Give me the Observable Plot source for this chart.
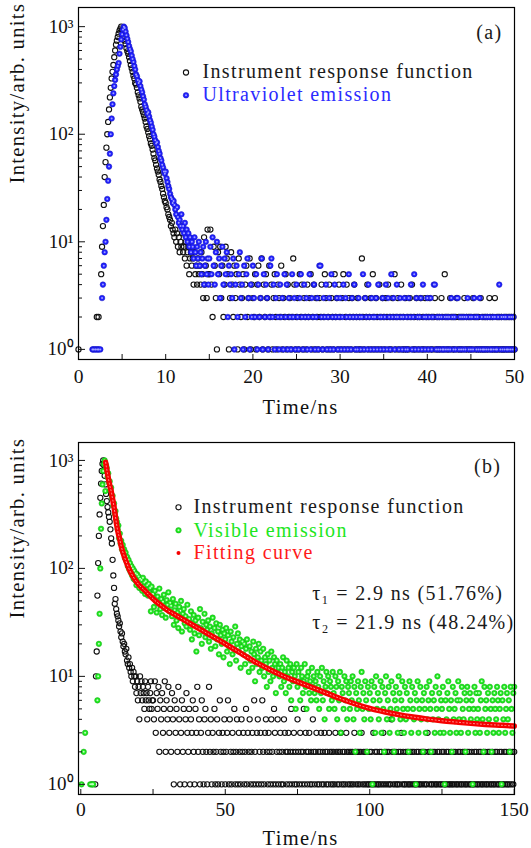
<!DOCTYPE html>
<html><head><meta charset="utf-8">
<script src="https://cdn.jsdelivr.net/npm/d3@7"></script>
<script src="https://cdn.jsdelivr.net/npm/@observablehq/plot@0.6"></script>
<style>
html,body{margin:0;padding:0;background:#fff;}
#page{position:relative;width:531px;height:848px;overflow:hidden;background:#fff;}
.panel{position:absolute;left:0;width:531px;height:424px;}
.panel svg text{letter-spacing:1.35px;}
.panel svg g[aria-label$="tick label"] text{letter-spacing:0;}
</style></head>
<body><div id="page"><div class="panel" id="pa" style="top:0"></div><div class="panel" id="pb" style="top:424px"></div></div>
<script>
// ---------- Panel (a): counts per time channel ----------
const headStepA = 0.1;                     // t = 0 .. 14.9 ns
const tailStartA = 15, tailStepA = 0.125;  // t = 15 .. 50 ns
const irfHeadA = [
1,0,0,0,0,0,0,0,0,0, 0,0,0,0,0,0,0,0,0,0,
0,2,0,2,0,0,5,9,14,22, 40,55,75,100,130,170,220,270,330,380,
440,520,600,680,740,800,860,920,960,1000, 930,870,800,740,690,630,590,560,520,480,
440,410,380,350,330,300,290,270,245,230, 215,200,180,170,160,150,140,130,118,112,
104,96,90,82,78,72,66,60,57,52, 48,45,42,38,36,33,31,28,26,24,
23,21,20,18,17,16,14,15,13,12, 11,13,10,12,9,11,8,10,9,12,
8,9,7,10,6,8,9,5,7,8, 6,7,4,8,5,6,4,7,5,6,
4,8,5,3,11,4,6,3,13,5];
const uvHeadA = [
0,0,0,0,0,0,0,0,0,0, 0,0,0,0,0,0,1,1,0,1,
1,0,1,1,0,1,0,3,4,6, 8,10,16,25,37,50,66,100,140,190,
240,280,320,360,400,430,460,560,650,760, 850,940,1000,970,900,830,770,720,660,620,
590,540,500,470,430,400,360,345,320,300, 310,280,260,245,225,210,190,180,168,155,
160,146,135,128,118,110,100,95,88,82, 84,76,70,66,60,57,52,49,45,43,
45,39,36,33,31,28,26,25,23,24, 22,20,18,21,17,15,16,14,18,13,
14,12,15,11,13,10,12,9,11,8, 10,9,7,11,8,6,9,7,10,6,
8,5,7,9,4,6,10,5,7,4];
const irfTailA = [
5,13,4,2,9,6,3,1,8,5,9,3,6,2,4,9,7,5,1,3,
8,4,2,6,3,5,1,7,4,2,3,5,1,4,6,2,3,7,1,4,
3,2,5,1,4,6,2,3,7,1,4,2,5,3,1,6,2,4,1,3,
5,2,1,4,3,2,6,1,3,2,5,1,4,2,3,1,2,7,4,1,
2,3,1,5,2,4,1,3,2,1,4,2,3,5,1,2,4,1,3,2,
1,3,2,4,1,2,5,3,1,2,4,1,3,2,1,5,2,3,1,4,
2,1,3,5,1,2,4,1,3,2,1,3,2,4,1,2,3,1,2,1,
7,2,1,3,2,4,1,2,3,1,5,2,1,3,2,1,4,2,1,3,
2,1,3,2,4,1,2,1,3,2,5,1,2,3,1,2,4,1,2,1,
3,1,2,1,3,2,4,1,2,1,3,2,1,2,3,1,2,1,3,2,
1,2,3,1,2,1,2,3,1,2,1,2,1,3,2,1,5,2,1,2,
1,3,2,1,2,1,2,3,1,2,1,2,1,2,3,1,2,1,2,1,
2,1,3,2,1,2,1,2,1,3,1,2,1,2,1,2,1,3,2,1,
2,1,3,1,2,1,2,1,2,1,1,2,1,2,1,2,1,2,1,2,
1];
const uvTailA = [
7,9,5,11,6,4,8,10,5,7,3,6,9,4,7,5,8,2,6,4,
5,3,7,1,4,6,2,5,8,3,4,1,6,2,5,7,3,1,4,2,
6,3,2,5,1,4,2,3,7,1,5,2,4,3,1,2,6,7,2,4,
1,3,5,2,1,4,2,3,1,5,2,4,1,3,2,1,5,2,3,1,
4,2,1,3,5,2,1,4,2,3,1,2,5,1,3,2,4,1,2,3,
1,6,6,2,1,3,2,4,1,2,3,1,5,2,1,4,2,3,1,2,
3,1,2,4,1,3,2,1,5,2,1,3,2,4,1,2,1,3,2,1,
2,5,1,3,2,1,4,2,1,3,2,1,2,3,1,4,2,1,2,3,
1,2,4,1,3,2,1,5,2,3,1,2,4,2,1,3,2,1,2,3,
1,2,1,3,2,4,1,2,5,1,3,2,1,2,3,1,4,2,1,2,
3,1,2,3,1,2,4,4,1,2,1,2,1,2,1,1,2,1,2,1,
2,1,3,2,1,2,1,3,3,1,2,1,2,1,2,1,2,3,1,2,
1,2,1,3,2,1,2,1,3,1,2,1,1,2,1,2,1,2,1,1,
2,1,2,1,1,2,4,1,2,1,2,1,2,1,1,2,1,2,1,2,
1];

// ---------- Panel (b) ----------
const headStepB = 0.25;                       // t = 0 .. 24.75 ns
const tailStartB = 25, tailStepB = 0.3125;    // t = 25 .. 150 ns
const irfHeadB = [
0,0,0,0,0,0,0,0,0,0, 0,0,0,0,0,0,0,0,0,0,
1,10,17,56,112,200,316,450,610,800, 930,1000,900,720,600,490,420,370,330,300,
270,230,190,170,120,86,66,47,52,42, 38,36,33,29,31,26,23,25,21,19,
20,17,16,18,14,13,15,12,13,11, 10,12,9,11,10,8,10,7,9,6,
8,4,10,7,9,6,8,7,5,9, 6,7,4,8,6,5,7,9,5,6];
const visHeadB = [
0,1,0,0,2,0,3,0,0,0, 0,0,0,1,0,1,1,1,0,0,
0,0,0,6,10,20,38,100,233,400, 600,800,920,1000,520,900,850,700,760,620,
640,530,560,450,470,380,400,320,340,290, 270,230,250,190,210,170,180,150,165,140,
150,125,140,118,128,105,120,98,112,92, 105,86,100,80,95,78,90,70,88,74,
84,66,80,72,78,62,82,68,74,58, 76,64,70,56,72,60,66,40,68,58];
const irfTailB = [
6,4,9,3,7,5,8,2,6,4,7,3,5,9,2,6,4,8,3,5,
2,7,4,1,6,3,5,2,8,4,1,3,6,2,5,1,4,7,3,2,
5,1,4,3,6,2,1,5,3,8,2,4,1,3,6,2,1,4,5,2,
1,3,8,2,4,1,3,2,5,1,2,4,1,3,6,2,1,3,2,4,
1,2,3,6,1,4,2,1,3,2,5,1,2,4,1,3,2,1,4,2,
3,1,2,5,1,3,2,4,1,2,3,1,6,2,1,3,4,1,2,3,
1,6,2,1,3,4,2,1,3,2,1,4,2,1,5,3,1,2,4,1,
2,3,1,2,1,4,3,2,1,2,3,1,2,5,1,2,3,1,2,1,
4,2,1,3,2,1,2,5,1,3,2,1,2,3,1,2,1,4,2,1,
2,3,1,2,1,2,3,1,2,1,3,2,1,2,1,3,2,1,2,1,
2,1,3,2,1,2,1,2,3,1,2,1,2,1,3,2,1,2,1,2,
1,2,1,3,2,1,2,1,2,1,2,3,1,2,1,2,1,2,1,1,
2,1,2,1,3,1,2,1,2,1,1,2,1,2,1,3,1,2,1,2,
1,2,1,1,4,2,1,2,1,2,1,1,2,1,2,3,1,2,1,1,
2,1,2,1,1,2,1,2,1,2,1,1,2,1,2,1,1,2,1,2,
1,2,1,1,3,2,1,2,1,1,2,1,2,1,1,2,1,2,1,1,
2,1,2,1,1,2,1,2,1,1,2,1,1,2,1,2,1,1,2,1,
2,1,1,2,1,2,1,1,2,1,2,1,1,2,1,1,2,1,2,1,
1,2,1,2,1,1,2,1,2,1,1,2,1,2,1,1,2,1,1,2,
1,2,1,1,2,1,2,1,1,2,1,2,1,1,2,1,2,1,2,1,
2];
const visTailB = [
58,44,62,50,39,55,47,65,42,52,37,49,57,43,35,51,46,60,40,48,
45,36,52,30,41,47,33,39,28,44,35,50,26,38,42,31,36,29,46,33,
34,27,40,22,31,37,25,33,17,29,35,24,42,28,20,32,26,38,23,30,
27,33,21,29,18,25,35,23,28,19,31,22,26,16,30,24,20,27,15,25,
22,28,17,24,19,13,26,21,16,23,18,29,14,20,25,17,22,12,19,21,
16,20,13,18,22,15,11,19,14,17,12,21,16,9,18,13,15,20,11,17,
14,12,18,10,15,13,8,16,11,14,9,17,12,10,15,13,7,14,11,12,
10,13,8,12,15,9,11,7,14,10,12,8,13,6,11,9,12,10,5,13,
8,11,9,6,12,10,7,9,13,8,5,10,11,7,9,6,12,8,10,7,
9,6,11,8,5,10,7,12,6,9,4,8,11,7,10,5,9,8,6,11,
7,5,10,8,4,9,6,11,3,8,7,5,10,6,9,4,8,7,5,9,
6,10,4,8,2,7,5,9,6,3,8,11,5,7,4,9,6,2,8,5,
7,4,9,1,6,8,3,10,5,7,4,6,9,3,8,5,2,7,10,4,
6,8,3,5,9,4,7,2,6,8,5,3,10,7,4,6,9,5,3,8,
4,7,5,2,9,6,3,8,5,4,7,1,6,9,3,5,8,4,6,2,
7,5,3,8,4,6,9,5,2,7,4,6,3,8,5,10,4,7,3,6,
5,8,3,1,6,4,7,9,5,3,6,2,8,4,5,7,3,6,9,4,
6,3,8,5,4,7,2,6,8,3,5,7,4,6,1,5,8,3,7,4,
5,7,3,6,9,4,2,8,5,6,3,7,4,8,5,2,6,3,7,5,
4,8,6,3,5,7,1,6,4,8,3,5,7,4,6,2,8,5,3,7,
8];
const fitTimeB = [8.6,9,9.5,10,10.5,11,11.5,12,12.5,13,13.5,14,15,16,17,18,19,20,22,24,26,28,30,33,36,40,44,48,52,56,60,65,70,76,80,85,90,95,100,105,110,115,120,125,130,135,140,145,150];
const fitValueB = [960,820,690,590,520,440,370,300,245,210,185,160,130,110,95,85,77,71,63,55.5,49.5,45,41,36.8,33,28.6,24.8,21.5,18.6,16,13.8,11.7,10.1,8.7,7.9,7.0,6.2,5.55,5.05,4.7,4.42,4.2,4.02,3.88,3.77,3.67,3.59,3.53,3.47];

// ---------- ticks and labels ----------
const yMajor = [1, 10, 100, 1000];
const yMinor = [2,3,4,5,6,7,8,9,20,30,40,50,60,70,80,90,200,300,400,500,600,700,800,900];
const xMajorA = [0,10,20,30,40,50], xMinorA = [5,15,25,35,45];
const xMajorB = [0,50,100,150], xMinorB = [25,75,125];
const legendA = ["Instrument response function", "Ultraviolet emission"];
const legendB = ["Instrument response function", "Visible emission", "Fitting curve"];
const fitParams = ["τ₁ = 2.9 ns (51.76%)", "τ₂ = 21.9 ns (48.24%)"];
const panelTags = ["(a)", "(b)"];
const xTitle = "Time/ns", yTitle = "Intensity/arb. units";

// ---------- helpers ----------
const rows = (arr, start, step) => arr.map((v, i) => ({t: start + i * step, v})).filter(d => d.v > 0);
const sup = ["⁰","¹","²","³"];
const yFmt = d => "10" + sup[Math.round(Math.log10(d))];
const FONT = "Liberation Serif, Times New Roman, serif";

function txt(s, anchor, dx, dy, o = {}) {
  return Plot.text([s], {frameAnchor: anchor, dx, dy, text: d => d, lineAnchor: "middle", fontSize: 20, ...o});
}
function axesCommon(xMaj, xMin, xPad) {
  return [
    Plot.axisY({anchor: "left", ticks: yMajor, tickSize: 7, dx: 7, tickFormat: () => "", label: null}),
    Plot.axisY({anchor: "left", ticks: yMinor, tickSize: 4, dx: 4, tickFormat: () => "", label: null}),
    Plot.axisY({anchor: "left", ticks: yMajor, tickSize: 0, tickPadding: 5, tickFormat: yFmt, label: null, fontSize: 19}),
    Plot.axisX({anchor: "bottom", ticks: xMaj, tickSize: 5, dy: -5, tickFormat: () => "", label: null}),
    Plot.axisX({anchor: "bottom", ticks: xMin, tickSize: 5, dy: -5, tickFormat: () => "", label: null}),
    Plot.axisX({anchor: "bottom", ticks: xMaj, tickSize: 0, tickPadding: xPad, tickFormat: d => String(d), label: null, fontSize: 19.5}),
    Plot.frame({stroke: "#000", strokeWidth: 1.2})
  ];
}

const irfA = [...rows(irfHeadA, 0, headStepA), ...rows(irfTailA, tailStartA, tailStepA)];
const uvA = [...rows(uvHeadA, 0, headStepA), ...rows(uvTailA, tailStartA, tailStepA)];
const irfB = [...rows(irfHeadB, 0, headStepB), ...rows(irfTailB, tailStartB, tailStepB)];
const visB = [...rows(visHeadB, 0, headStepB), ...rows(visTailB, tailStartB, tailStepB)];
const fitB = fitTimeB.map((t, i) => ({t, v: fitValueB[i]}));

const BLUE = "#2020ff", BLUE_EDGE = "#1515b8", BLUE_HI = "#a0a0ff";
const GREEN = "#1fe81f", GREEN_EDGE = "#0c9a0c", GREEN_HI = "#c0ffc0";
const RED = "#f50000";

const plotA = Plot.plot({
  width: 531, height: 424,
  marginTop: 7, marginBottom: 65, marginLeft: 78, marginRight: 17,
  style: {fontFamily: FONT, fontSize: "19px", background: "white", color: "#111"},
  x: {domain: [0, 50], label: null},
  y: {type: "log", domain: [Math.pow(10, -0.094), Math.pow(10, 3.178)], label: null},
  marks: [
    Plot.dot(irfA, {x: "t", y: "v", r: 2.6, stroke: "#111", strokeWidth: 1.1, fill: "none"}),
    Plot.dot(uvA, {x: "t", y: "v", r: 2.8, fill: BLUE, stroke: BLUE_EDGE, strokeWidth: 0.5}),
    Plot.dot(uvA, {x: "t", y: "v", r: 1, fill: BLUE_HI}),
    ...axesCommon(xMajorA, xMinorA, 10),
    Plot.dot([0], {frameAnchor: "top-left", dx: 107.5, dy: 65, r: 2.6, stroke: "#111", strokeWidth: 1.1, fill: "none"}),
    Plot.dot([0], {frameAnchor: "top-left", dx: 107.5, dy: 87.8, r: 2.8, fill: BLUE, stroke: BLUE_EDGE, strokeWidth: 0.5}),
    Plot.dot([0], {frameAnchor: "top-left", dx: 107.5, dy: 87.8, r: 1, fill: BLUE_HI}),
    txt(legendA[0], "top-left", 124, 64.5, {textAnchor: "start", fill: "#1a1a1a"}),
    txt(legendA[1], "top-left", 124, 87.3, {textAnchor: "start", fill: "#2b2bff"}),
    txt(panelTags[0], "top-right", -12, 24.7, {textAnchor: "end", fill: "#1a1a1a"}),
    txt(xTitle, "bottom", 4, 48, {fontSize: 20.5}),
    txt(yTitle, "left", -61, 0, {rotate: -90, fontSize: 20.5})
  ]
});

const plotB = Plot.plot({
  width: 531, height: 424,
  marginTop: 18, marginBottom: 54, marginLeft: 78, marginRight: 17,
  style: {fontFamily: FONT, fontSize: "19px", background: "white", color: "#111"},
  x: {domain: [-0.8, 150.1], label: null},
  y: {type: "log", domain: [Math.pow(10, -0.094), Math.pow(10, 3.166)], label: null},
  marks: [
    Plot.dot(irfB, {x: "t", y: "v", r: 2.6, stroke: "#111", strokeWidth: 1.1, fill: "none"}),
    Plot.dot(visB, {x: "t", y: "v", r: 2.8, fill: GREEN, stroke: GREEN_EDGE, strokeWidth: 0.4}),
    Plot.dot(visB, {x: "t", y: "v", r: 1, fill: GREEN_HI}),
    Plot.line(fitB, {x: "t", y: "v", stroke: RED, strokeWidth: 5.5, curve: "monotone-x"}),
    Plot.line(fitB, {x: "t", y: "v", stroke: "#ff9c9c", strokeWidth: 1, strokeDasharray: "1,2.5", curve: "monotone-x"}),
    ...axesCommon(xMajorB, xMinorB, 8),
    Plot.dot([0], {frameAnchor: "top-left", dx: 100, dy: 64.8, r: 2.6, stroke: "#111", strokeWidth: 1.1, fill: "none"}),
    Plot.dot([0], {frameAnchor: "top-left", dx: 100, dy: 87.8, r: 2.8, fill: GREEN, stroke: GREEN_EDGE, strokeWidth: 0.4}),
    Plot.dot([0], {frameAnchor: "top-left", dx: 100, dy: 87.8, r: 1, fill: GREEN_HI}),
    Plot.dot([0], {frameAnchor: "top-left", dx: 100, dy: 110.5, r: 2, fill: RED}),
    txt(legendB[0], "top-left", 115, 64.3, {textAnchor: "start", fill: "#1a1a1a"}),
    txt(legendB[1], "top-left", 115, 87.7, {textAnchor: "start", fill: "#1ee61e"}),
    txt(legendB[2], "top-left", 115, 110, {textAnchor: "start", fill: "#ff1a1a"}),
    txt(fitParams[0], "top-left", 233.7, 151, {textAnchor: "start", fill: "#1a1a1a"}),
    txt(fitParams[1], "top-left", 233.7, 179.7, {textAnchor: "start", fill: "#1a1a1a"}),
    txt(panelTags[1], "top-right", -13.2, 23.7, {textAnchor: "end", fill: "#1a1a1a"}),
    txt(xTitle, "bottom", 4, 43.5, {fontSize: 20.5}),
    txt(yTitle, "left", -61, 0, {rotate: -90, fontSize: 20.5})
  ]
});

document.getElementById("pa").appendChild(plotA);
document.getElementById("pb").appendChild(plotB);
</script></body></html>
